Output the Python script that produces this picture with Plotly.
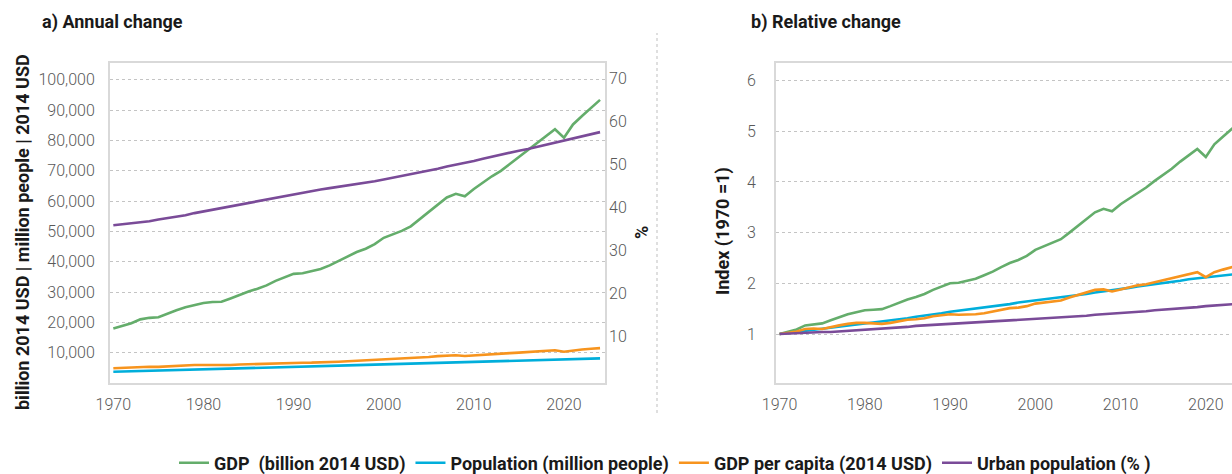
import plotly.graph_objects as go

years = list(range(1970, 2025))

gdp = [18000, 18800, 19700, 21000, 21500, 21700, 22900, 24000, 25000, 25800,
       26400, 26700, 26800, 27900, 29100, 30200, 31100, 32200, 33700, 34900,
       36000, 36200, 36900, 37600, 38800, 40200, 41700, 43200, 44300, 45800,
       47900, 49100, 50200, 51700, 54000, 56300, 58800, 61200, 62400, 61600,
       64000, 66100, 68200, 70000, 72300, 74500, 76600, 79200, 81400, 83700,
       80900, 85300, 88100, 90800, 93400]

population = [3700, 3775, 3850, 3925, 3999, 4070, 4140, 4210, 4280, 4360,
              4440, 4520, 4600, 4690, 4770, 4860, 4950, 5040, 5140, 5230,
              5330, 5410, 5500, 5580, 5660, 5740, 5820, 5900, 5980, 6070,
              6150, 6230, 6310, 6390, 6470, 6550, 6640, 6720, 6810, 6900,
              6990, 7080, 7170, 7260, 7340, 7430, 7520, 7600, 7680, 7760,
              7840, 7910, 7980, 8050, 8120]

gdp_pc = [4865, 4980, 5117, 5350, 5376, 5332, 5531, 5701, 5841, 5917,
          5946, 5907, 5826, 5949, 6101, 6214, 6283, 6389, 6556, 6673,
          6754, 6691, 6709, 6738, 6855, 7003, 7165, 7322, 7408, 7545,
          7789, 7881, 7956, 8091, 8346, 8595, 8855, 9107, 9163, 8928,
          9156, 9336, 9512, 9642, 9850, 10027, 10186, 10421, 10599, 10786,
          10319, 10784, 11040, 11280, 11502]

urban = [35.9, 36.1, 36.3, 36.5, 36.8, 37.2, 37.5, 37.8, 38.2, 38.7,
         39.1, 39.5, 39.9, 40.3, 40.7, 41.1, 41.5, 41.9, 42.3, 42.7,
         43.1, 43.5, 43.8, 44.2, 44.5, 44.8, 45.1, 45.5, 45.8, 46.1,
         46.5, 46.9, 47.4, 47.8, 48.2, 48.6, 49.0, 49.5, 49.9, 50.4,
         50.8, 51.3, 51.8, 52.2, 52.7, 53.2, 53.6, 54.1, 54.6, 55.1,
         55.6, 56.1, 56.5, 57.0, 57.5]

# Relative change (index, 1970 = 1)
idx_gdp = [1.00, 1.04, 1.09, 1.17, 1.19, 1.21, 1.27, 1.33, 1.39, 1.43,
           1.47, 1.48, 1.49, 1.55, 1.62, 1.68, 1.73, 1.79, 1.87, 1.94,
           2.00, 2.01, 2.05, 2.09, 2.16, 2.23, 2.32, 2.40, 2.46, 2.54,
           2.66, 2.73, 2.79, 2.87, 3.00, 3.13, 3.27, 3.40, 3.47, 3.42,
           3.56, 3.67, 3.79, 3.89, 4.02, 4.14, 4.26, 4.40, 4.52, 4.65,
           4.49, 4.74, 4.89, 5.04, 5.19]

idx_pop = [1.00, 1.02, 1.04, 1.06, 1.08, 1.10, 1.12, 1.14, 1.16, 1.18,
           1.20, 1.22, 1.24, 1.27, 1.29, 1.31, 1.34, 1.36, 1.39, 1.41,
           1.44, 1.46, 1.49, 1.51, 1.53, 1.55, 1.57, 1.59, 1.62, 1.64,
           1.66, 1.68, 1.71, 1.73, 1.75, 1.77, 1.79, 1.82, 1.84, 1.86,
           1.89, 1.91, 1.94, 1.96, 1.98, 2.01, 2.03, 2.05, 2.08, 2.10,
           2.12, 2.14, 2.16, 2.18, 2.19]

idx_pc = [1.00, 1.02, 1.05, 1.10, 1.11, 1.10, 1.14, 1.17, 1.20, 1.22,
          1.22, 1.21, 1.20, 1.22, 1.25, 1.28, 1.29, 1.31, 1.35, 1.37,
          1.39, 1.38, 1.38, 1.39, 1.41, 1.44, 1.47, 1.51, 1.52, 1.55,
          1.60, 1.62, 1.64, 1.66, 1.72, 1.77, 1.82, 1.87, 1.88, 1.84,
          1.88, 1.92, 1.96, 1.98, 2.02, 2.06, 2.09, 2.14, 2.18, 2.22,
          2.12, 2.22, 2.27, 2.32, 2.36]

idx_urban = [1.00, 1.01, 1.01, 1.02, 1.03, 1.04, 1.04, 1.05, 1.06, 1.08,
             1.09, 1.10, 1.11, 1.12, 1.13, 1.14, 1.16, 1.17, 1.18, 1.19,
             1.20, 1.21, 1.22, 1.23, 1.24, 1.25, 1.26, 1.27, 1.28, 1.28,
             1.30, 1.31, 1.32, 1.33, 1.34, 1.35, 1.36, 1.38, 1.39, 1.40,
             1.42, 1.43, 1.44, 1.45, 1.47, 1.48, 1.49, 1.51, 1.52, 1.53,
             1.55, 1.56, 1.57, 1.59, 1.60]

series_names = ["GDP  (billion 2014 USD)", "Population (million people)",
                "GDP per capita (2014 USD)", "Urban population (% )"]
colors = ["#64AD6B", "#00AEDB", "#F7941E", "#7A4B98"]

left_ticks = [10000, 20000, 30000, 40000, 50000, 60000, 70000, 80000, 90000, 100000]
pct_ticks = [10, 20, 30, 40, 50, 60, 70]
idx_ticks = [1, 2, 3, 4, 5, 6]
year_ticks = [1970, 1980, 1990, 2000, 2010, 2020]

W, H = 1232, 474
FONT = "Roboto"
TICKFONT = dict(family=FONT, size=16, color="#595959", weight=300)
TITLEFONT = dict(family=FONT, size=18, color="#1a1a1a", weight="bold")
FRAME = "#d9d9d9"
GRID = "#c4c4c4"

def px(x):
    return x / W

def py(y):
    return 1 - y / H

fig = go.Figure()

left_series = [gdp, population, gdp_pc]
for name, vals, col in zip(series_names[:3], left_series, colors[:3]):
    fig.add_trace(go.Scatter(x=years, y=vals, name=name, mode="lines",
                             line=dict(color=col, width=2.6),
                             xaxis="x", yaxis="y"))
fig.add_trace(go.Scatter(x=years, y=urban, name=series_names[3], mode="lines",
                         line=dict(color=colors[3], width=2.6),
                         xaxis="x", yaxis="y2"))

right_series = [idx_gdp, idx_pop, idx_pc, idx_urban]
for name, vals, col in zip(series_names, right_series, colors):
    fig.add_trace(go.Scatter(x=years, y=vals, name=name, mode="lines",
                             line=dict(color=col, width=2.6),
                             xaxis="x2", yaxis="y3", showlegend=False))

ydom = [py(383), py(63)]

fig.update_layout(
    template="none",
    width=W, height=H,
    margin=dict(l=0, r=0, t=0, b=0, autoexpand=False),
    paper_bgcolor="white", plot_bgcolor="white",
    font=dict(family=FONT),
    showlegend=True,
    hovermode=False,
    legend=dict(orientation="h", x=px(174), xanchor="left", y=py(463), yanchor="middle",
                font=dict(family=FONT, size=18, color="#1a1a1a", weight="bold"),
                bgcolor="rgba(0,0,0,0)", itemwidth=30, traceorder="normal",
                borderwidth=0),
    xaxis=dict(domain=[px(110), px(605)], anchor="y", range=[1969.63, 2024.55],
               tickvals=year_ticks, showgrid=False, zeroline=False, automargin=False,
               showline=True, linecolor=FRAME, linewidth=2, mirror=True,
               ticks="", tickfont=TICKFONT, ticklabelstandoff=6),
    yaxis=dict(domain=ydom, anchor="x", range=[0, 105570], tickvals=left_ticks,
               tickformat=",", showgrid=True, gridcolor=GRID, griddash="dot", gridwidth=1,
               zeroline=False, showline=True, linecolor=FRAME, linewidth=2, mirror=True,
               automargin=False, ticks="", tickfont=TICKFONT, ticklabelstandoff=10),
    yaxis2=dict(overlaying="y", side="right", anchor="x", range=[-0.74, 73.55],
                tickvals=pct_ticks, showgrid=False, zeroline=False, showline=False,
                automargin=False, ticks="", tickfont=TICKFONT, ticklabelstandoff=3),
    xaxis2=dict(domain=[px(776), 1.0], anchor="y3", range=[1969.58, 2023.07],
                tickvals=year_ticks, showgrid=False, zeroline=False, automargin=False,
                showline=True, linecolor=FRAME, linewidth=2, mirror=True,
                ticks="", tickfont=TICKFONT, ticklabelstandoff=6, ticklabelshift=0),
    yaxis3=dict(domain=ydom, anchor="x2", range=[0.034, 6.345], tickvals=idx_ticks,
                showgrid=True, gridcolor=GRID, griddash="dot", gridwidth=1,
                zeroline=False, showline=True, linecolor=FRAME, linewidth=2, mirror=False,
                automargin=False, ticks="", tickfont=TICKFONT, ticklabelstandoff=15),
    shapes=[dict(type="line", xref="paper", yref="paper", x0=px(657), x1=px(657),
                 y0=py(413), y1=py(33), line=dict(color="#bfbfbf", width=1, dash="dot"))],
    annotations=[
        dict(text="a) Annual change", x=px(40), y=py(22), xref="paper", yref="paper",
             xanchor="left", yanchor="middle", showarrow=False, font=TITLEFONT),
        dict(text="b) Relative change", x=px(749), y=py(22), xref="paper", yref="paper",
             xanchor="left", yanchor="middle", showarrow=False, font=TITLEFONT),
        dict(text="billion 2014 USD | million people | 2014 USD", x=px(22), y=py(232),
             xref="paper", yref="paper", xanchor="center", yanchor="middle",
             textangle=-90, showarrow=False, font=TITLEFONT),
        dict(text="%", x=px(641), y=py(233), xref="paper", yref="paper",
             xanchor="center", yanchor="middle", textangle=-90, showarrow=False,
             font=TITLEFONT),
        dict(text="Index (1970 =1)", x=px(723), y=py(231), xref="paper", yref="paper",
             xanchor="center", yanchor="middle", textangle=-90, showarrow=False,
             font=TITLEFONT),
    ],
)

fig.write_html("out.html", config={"displayModeBar": False},
               post_script="document.body.style.margin='0';document.body.style.overflow='hidden';")
